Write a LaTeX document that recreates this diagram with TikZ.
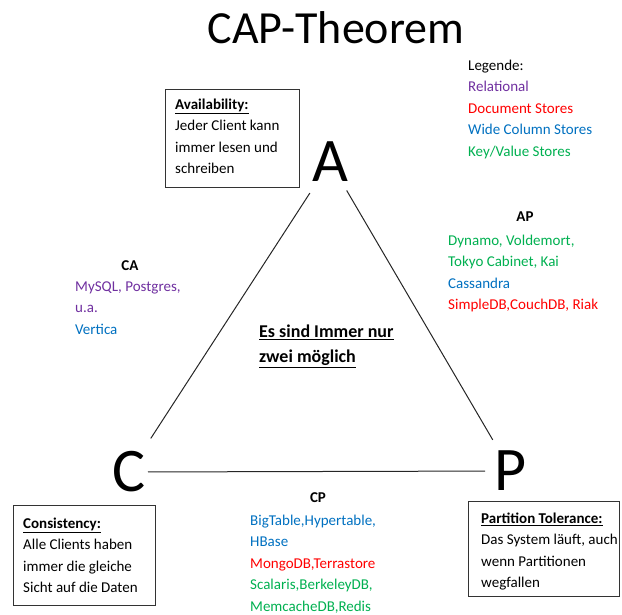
\documentclass[tikz,border=0pt]{standalone}
\usepackage{fontspec}
\setmainfont{Carlito}
\usepackage{xcolor}
\usepackage{tikz}
\usetikzlibrary{positioning}
\definecolor{relational}{HTML}{7030A0}
\definecolor{docstore}{HTML}{FF0000}
\definecolor{widecol}{HTML}{0070C0}
\definecolor{keyvalue}{HTML}{00B050}
\tikzset{
  corner/.style={font=\fontsize{62}{62}\selectfont, inner sep=0pt},
  edge/.style={draw=black!85, line width=1pt},
  infobox/.style={draw=black!80, line width=1.2pt, inner sep=0pt, anchor=north west},
  infotext/.style={anchor=north west, inner sep=0pt, align=left,
                   font=\fontsize{15}{21.5}\selectfont},
  dbhead/.style={anchor=base, inner sep=0pt, font=\fontsize{15}{21.5}\selectfont\bfseries},
  dblist/.style={anchor=north west, inner sep=0pt, align=left,
                 font=\fontsize{15}{21.5}\selectfont}
}
\newcommand{\dbrel}[1]{\textcolor{relational}{#1}}
\newcommand{\dbdoc}[1]{\textcolor{docstore}{#1}}
\newcommand{\dbwide}[1]{\textcolor{widecol}{#1}}
\newcommand{\dbkv}[1]{\textcolor{keyvalue}{#1}}
\newcommand{\boxhead}[1]{\underline{\textbf{#1}}}

\begin{document}
\begin{tikzpicture}[x=1pt,y=-1pt]
  \path[use as bounding box] (0,0) rectangle (622,614);

  \node[anchor=base, inner sep=0pt, font=\fontsize{46}{46}\selectfont] (title) at (336,43) {CAP-Theorem};

  % corners of the triangle
  \node[corner] (A) at (330,162) {A};
  \node[corner] (C) at (129,472) {C};
  \node[corner] (P) at (511,471) {P};
  \draw[edge, shorten <=37pt, shorten >=40pt] (A.center) -- (C.center);
  \draw[edge, shorten <=33pt, shorten >=36pt] (A.center) -- (P.center);
  \draw[edge, shorten <=19pt, shorten >=26pt] (C.center) -- (P.center);

  % legend
  \node[dblist] (legend) at (468,59.5) {Legende:\\ \dbrel{Relational}\\ \dbdoc{Document Stores}\\
    \dbwide{Wide Column Stores}\\ \dbkv{Key/Value Stores}};

  % explanation boxes
  \node[infobox, minimum width=134pt, minimum height=98pt] (availbox) at (165,89) {};
  \node[infotext, below right=9.5pt and 10pt of availbox.north west] (availtext)
    {\boxhead{Availability:}\\ Jeder Client kann\\ immer lesen und\\ schreiben};
  \node[infobox, minimum width=142pt, minimum height=100pt] (consbox) at (13,505) {};
  \node[infotext, below right=12.5pt and 10pt of consbox.north west] (constext)
    {\boxhead{Consistency:}\\ Alle Clients haben\\ immer die gleiche\\ Sicht auf die Daten};
  \node[infobox, minimum width=151pt, minimum height=95pt] (partbox) at (468,501) {};
  \node[infotext, below right=11.5pt and 13pt of partbox.north west] (parttext)
    {\boxhead{Partition Tolerance:}\\ Das System läuft, auch\\ wenn Partitionen\\ wegfallen};

  % the three pairs
  \node[dbhead] (aphead) at (525,221) {AP};
  \node[dblist] (aplist) at (448,234.5) {\dbkv{Dynamo, Voldemort,}\\ \dbkv{Tokyo Cabinet, Kai}\\
    \dbwide{Cassandra}\\ \dbdoc{SimpleDB,CouchDB, Riak}};
  \node[dbhead] (cahead) at (130,270) {CA};
  \node[dblist] (calist) at (75,281.5) {\dbrel{MySQL, Postgres,}\\ \dbrel{u.a.}\\ \dbwide{Vertica}};
  \node[dbhead] (cphead) at (318,502) {CP};
  \node[dblist] (cplist) at (250,514.5) {\dbwide{BigTable,Hypertable,}\\ \dbwide{HBase}\\
    \dbdoc{MongoDB,Terrastore}\\ \dbkv{Scalaris,BerkeleyDB,}\\ \dbkv{MemcacheDB,Redis}};

  \node[anchor=north west, inner sep=0pt, align=left, font=\fontsize{18}{25}\selectfont\bfseries]
    (note) at (259,324.5) {\underline{Es sind Immer nur}\\ \underline{zwei möglich}};
\end{tikzpicture}
\end{document}
